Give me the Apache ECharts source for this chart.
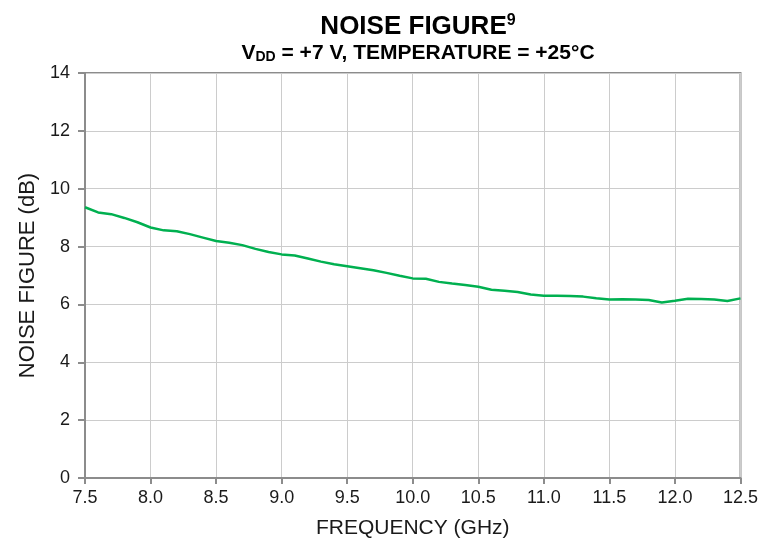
<!DOCTYPE html>
<html>
<head>
<meta charset="utf-8">
<script src="https://cdn.jsdelivr.net/npm/echarts@6/dist/echarts.min.js"></script>
<style>html,body{margin:0;padding:0;background:#fff}#c{width:761px;height:546px}</style>
</head>
<body>
<div id="c"></div>
<script>
const frequency = [7.5,7.6,7.7,7.8,7.9,8.0,8.1,8.2,8.3,8.4,8.5,8.6,8.7,8.8,8.9,9.0,9.1,9.2,9.3,9.4,9.5,9.6,9.7,9.8,9.9,10.0,10.1,10.2,10.3,10.4,10.5,10.6,10.7,10.8,10.9,11.0,11.1,11.2,11.3,11.4,11.5,11.6,11.7,11.8,11.9,12.0,12.1,12.2,12.3,12.4,12.5];
const noiseFigure = [9.36,9.18,9.12,8.99,8.84,8.66,8.56,8.53,8.43,8.31,8.19,8.13,8.05,7.92,7.81,7.73,7.69,7.59,7.48,7.39,7.32,7.25,7.18,7.09,6.99,6.90,6.89,6.78,6.72,6.67,6.61,6.51,6.47,6.43,6.34,6.30,6.30,6.29,6.27,6.21,6.17,6.18,6.17,6.15,6.07,6.13,6.20,6.19,6.17,6.12,6.21];
const xTicks = {min:7.5, max:12.5, step:0.5};
const yTicks = {min:0, max:14, step:2};
const titleText = 'NOISE FIGURE';
const titleSup = '9';
const subtitleParts = ['V','DD',' = +7 V, TEMPERATURE = +25°C'];
const xName = 'FREQUENCY (GHz)';
const yName = 'NOISE FIGURE (dB)';

const chart = echarts.init(document.getElementById('c'), null, {renderer:'canvas'});
const font = 'Liberation Sans, Arial, sans-serif';
chart.setOption({
  animation:false,
  backgroundColor:'#fff',
  title:[
    {text:'{a|'+titleText+'}{s|'+titleSup+'}', left:413, top:5, textAlign:'center',
     textStyle:{rich:{a:{fontFamily:font,fontWeight:'bold',fontSize:26,color:'#000',lineHeight:30,verticalAlign:'bottom'},
                      s:{fontFamily:font,fontWeight:'bold',fontSize:16,color:'#000',verticalAlign:'top',lineHeight:30,padding:[3,0,6,0]}}}},
    {text:'{a|'+subtitleParts[0]+'}{b|'+subtitleParts[1]+'}{a|'+subtitleParts[2]+'}', left:413, top:35, textAlign:'center',
     textStyle:{rich:{a:{fontFamily:font,fontWeight:'bold',fontSize:21,color:'#000',lineHeight:24,verticalAlign:'bottom'},
                      b:{fontFamily:font,fontWeight:'bold',fontSize:14,color:'#000',lineHeight:24,verticalAlign:'bottom',padding:[8,0,0,0]}}}}
  ],
  grid:{left:85,right:20,top:73,bottom:68,show:true,borderColor:'#8c8c8c',borderWidth:2,containLabel:false},
  xAxis:{type:'value',min:xTicks.min,max:xTicks.max,interval:xTicks.step,
    name:xName,nameLocation:'middle',nameGap:40,
    nameTextStyle:{fontFamily:font,fontSize:21,color:'#1a1a1a'},
    axisLine:{show:true,lineStyle:{color:'#8c8c8c',width:2}},
    axisTick:{show:true,length:6,lineStyle:{color:'#8c8c8c',width:2}},
    axisLabel:{fontFamily:font,fontSize:18,color:'#1a1a1a',margin:11,formatter:v=>v.toFixed(1)},
    splitLine:{show:true,lineStyle:{color:'#cccccc',width:1}}},
  yAxis:{type:'value',min:yTicks.min,max:yTicks.max,interval:yTicks.step,
    name:yName,nameLocation:'middle',nameGap:46,
    nameTextStyle:{fontFamily:font,fontSize:22,color:'#1a1a1a'},
    axisLine:{show:true,lineStyle:{color:'#8c8c8c',width:2}},
    axisTick:{show:true,length:7,lineStyle:{color:'#8c8c8c',width:2}},
    axisLabel:{fontFamily:font,fontSize:18,color:'#1a1a1a',margin:15},
    splitLine:{show:true,lineStyle:{color:'#cccccc',width:1}}},
  series:[{type:'line',data:frequency.map((f,i)=>[f,noiseFigure[i]]),showSymbol:false,symbol:'none',
    lineStyle:{color:'#00b050',width:2.5},z:3}]
});
</script>
</body>
</html>
